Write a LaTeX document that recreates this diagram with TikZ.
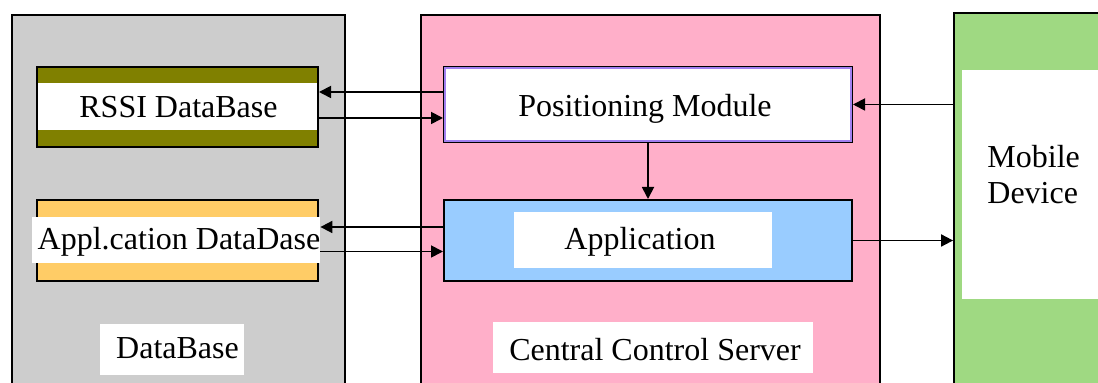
\documentclass[tikz,border=0pt]{standalone}
\usepackage{fontspec}
\setmainfont{Liberation Serif}
\usetikzlibrary{arrows.meta}

\definecolor{dbgray}{HTML}{CDCDCD}
\definecolor{srvpink}{HTML}{FFAFC9}
\definecolor{devgreen}{HTML}{9FD982}
\definecolor{rssiolive}{HTML}{808000}
\definecolor{apporange}{HTML}{FFCC66}
\definecolor{appblue}{HTML}{99CCFF}
\definecolor{pmviolet}{HTML}{A080F0}

\begin{document}
\begin{tikzpicture}[x=0.5pt,y=-0.5pt]
  \tikzstyle{every node}+=[inner sep=0pt, font=\fontsize{16}{18}\selectfont]
  \tikzstyle{panel}=[draw=black, line width=0.9pt]
  \tikzstyle{box}=[draw=black, line width=1pt, minimum width=140.5pt]
  \tikzstyle{whitetag}=[fill=white]
  \tikzstyle{txt}=[anchor=base]
  \tikzstyle{flow}=[draw=black, line width=0.9pt, -{Triangle[length=6pt,width=6pt]}]
  \useasboundingbox (0,0) rectangle (1098,383);
  \clip (0,0) rectangle (1098,383);
  \fill [white] (0,0) rectangle (1098,383);

  \node [panel, fill=dbgray, minimum width=166.5pt, minimum height=192.5pt] (dbase) at (178.5,207.5) {};
  \node [panel, fill=srvpink, minimum width=229.5pt, minimum height=192.5pt] (server) at (650.5,207.5) {};
  \node [panel, fill=devgreen, minimum width=83pt, minimum height=193.5pt] (dev) at (1037,206.5) {};
  \node [whitetag, minimum width=79pt, minimum height=114.5pt] (devscreen) at (1041,184.5) {};

  \node [box, fill=rssiolive, minimum height=40pt] (rssi) at (177.5,107) {};
  \node [whitetag, minimum width=139.5pt, minimum height=23.5pt] (rssitag) at (177.5,106.5) {};
  \node [box, fill=apporange, minimum height=40.5pt] (adb) at (177.5,240.5) {};
  \node [whitetag, minimum width=144pt, minimum height=23pt] (adbtag) at (176,240) {};
  \node [whitetag, minimum width=72pt, minimum height=25.5pt] (dbtag) at (172,349.5) {};

  \node [box, fill=white, minimum width=204pt, minimum height=37.5pt] (pm) at (648,104.5) {};
  \draw [pmviolet, line width=0.6pt] ([shift={(1pt,-1pt)}]pm.north west) rectangle ([shift={(-1pt,1pt)}]pm.south east);
  \node [box, fill=appblue, minimum width=204pt, minimum height=40.5pt] (app) at (648,240.5) {};
  \node [whitetag, minimum width=129pt, minimum height=28pt] (apptag) at (643,240) {};
  \node [whitetag, minimum width=160pt, minimum height=25.5pt] (srvtag) at (653,347.5) {};

  \node [txt] (rssiname) at (178.5,118) {RSSI DataBase};
  \node [txt] (adbname) at (179,250) {Appl.cation DataDase};
  \node [txt] (dbname) at (177.5,359) {DataBase};
  \node [txt] (pmname) at (645,117) {Positioning Module};
  \node [txt] (appname) at (640,250) {Application};
  \node [txt] (srvname) at (655,361) {Central Control Server};
  \node [anchor=base west] (devname1) at (987,168) {Mobile};
  \node [anchor=base west] (devname2) at (987,204) {Device};

  \draw [flow] ([yshift=6.25pt]pm.west) -- ([yshift=6.25pt]pm.west -| rssi.east);
  \draw [flow] ([yshift=-5.5pt]rssi.east) -- ([yshift=-5.5pt]rssi.east -| pm.west);
  \draw [flow] (pm) -- (app);
  \draw [flow] ([yshift=6.75pt]app.west) -- ([yshift=6.75pt]app.west -| adbtag.east);
  \draw [flow] ([yshift=-5.75pt]adbtag.east) -- ([yshift=-5.75pt]adbtag.east -| app.west);
  \draw [flow] (pm.east -| dev.west) -- (pm.east);
  \draw [flow] (app.east) -- (app.east -| dev.west);
\end{tikzpicture}
\end{document}
